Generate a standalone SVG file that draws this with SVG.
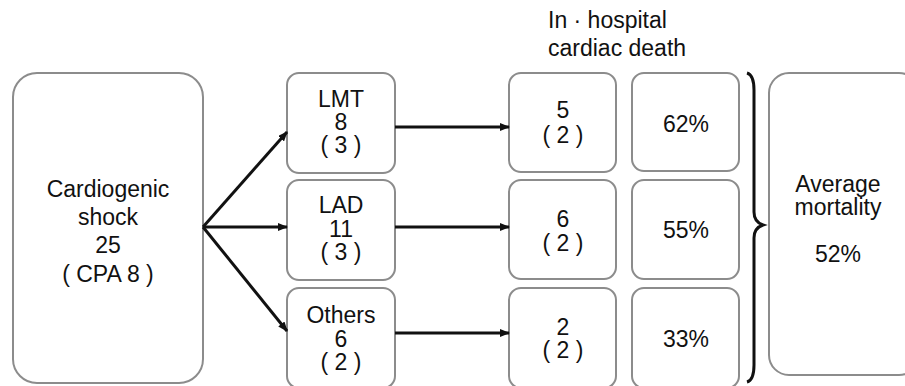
<svg xmlns="http://www.w3.org/2000/svg" width="905" height="386" viewBox="0 0 905 386">
<style>
.box{fill:#fff;stroke:#8c8c8c;stroke-width:2}
.t{font-family:"Liberation Sans",Arial,sans-serif;font-size:23px;fill:#111;text-anchor:middle}
.h{font-family:"Liberation Sans",Arial,sans-serif;font-size:23px;fill:#111}
.c{stroke:#111;stroke-width:3;fill:none}
</style>
<defs>
<marker id="ah" markerWidth="10" markerHeight="8" refX="9" refY="4" orient="auto" markerUnits="userSpaceOnUse">
<path d="M0,0 L10,4 L0,8 Z" fill="#111"/>
</marker>
</defs>
<rect width="905" height="386" fill="#fff"/>
<g id="header">
<text class="h" x="548" y="28">In · hospital</text>
<text class="h" x="548" y="56">cardiac death</text>
</g>
<g id="shock">
<rect class="box" x="13" y="73" width="190" height="310" rx="24"/>
<text class="t" x="108" y="197">Cardiogenic</text>
<text class="t" x="108" y="225">shock</text>
<text class="t" x="108" y="253">25</text>
<text class="t" x="108" y="282">( CPA 8 )</text>
</g>
<g id="lmt">
<rect class="box" x="287" y="73" width="108" height="100" rx="12"/>
<text class="t" x="341" y="107">LMT</text>
<text class="t" x="341" y="130">8</text>
<text class="t" x="341" y="153">( 3 )</text>
</g>
<g id="lad">
<rect class="box" x="287" y="180" width="108" height="100" rx="12"/>
<text class="t" x="341" y="213">LAD</text>
<text class="t" x="341" y="237">11</text>
<text class="t" x="341" y="260">( 3 )</text>
</g>
<g id="others">
<rect class="box" x="287" y="288" width="108" height="100" rx="12"/>
<text class="t" x="341" y="323">Others</text>
<text class="t" x="341" y="347">6</text>
<text class="t" x="341" y="370">( 2 )</text>
</g>
<g id="death1">
<rect class="box" x="509" y="73" width="107" height="99" rx="12"/>
<text class="t" x="563" y="118">5</text>
<text class="t" x="563" y="143">( 2 )</text>
</g>
<g id="death2">
<rect class="box" x="509" y="180" width="107" height="99" rx="12"/>
<text class="t" x="563" y="227">6</text>
<text class="t" x="563" y="251">( 2 )</text>
</g>
<g id="death3">
<rect class="box" x="509" y="288" width="107" height="100" rx="12"/>
<text class="t" x="563" y="335">2</text>
<text class="t" x="563" y="358">( 2 )</text>
</g>
<g id="pct1">
<rect class="box" x="632" y="73" width="107" height="98" rx="12"/>
<text class="t" x="686" y="132">62%</text>
</g>
<g id="pct2">
<rect class="box" x="632" y="180" width="107" height="99" rx="12"/>
<text class="t" x="686" y="238">55%</text>
</g>
<g id="pct3">
<rect class="box" x="632" y="288" width="107" height="100" rx="12"/>
<text class="t" x="686" y="347">33%</text>
</g>
<g id="brace">
<path class="c" d="M747,73 Q754,75 754,90 L754,212 Q754,222 763,225 Q754,228 754,238 L754,365 Q754,380 747,382"/>
</g>
<g id="average">
<rect class="box" x="769" y="73" width="150" height="302" rx="20"/>
<text class="t" x="838" y="192">Average</text>
<text class="t" x="838" y="215">mortality</text>
<text class="t" x="838" y="262">52%</text>
</g>
<g id="connectors">
<line class="c" x1="203" y1="227" x2="287" y2="132" marker-end="url(#ah)"/>
<line class="c" x1="203" y1="227" x2="287" y2="227" marker-end="url(#ah)"/>
<line class="c" x1="203" y1="227" x2="287" y2="331" marker-end="url(#ah)"/>
<line class="c" x1="395" y1="127" x2="509" y2="127" marker-end="url(#ah)"/>
<line class="c" x1="395" y1="227" x2="509" y2="227" marker-end="url(#ah)"/>
<line class="c" x1="395" y1="333" x2="509" y2="333" marker-end="url(#ah)"/>
</g>
</svg>
